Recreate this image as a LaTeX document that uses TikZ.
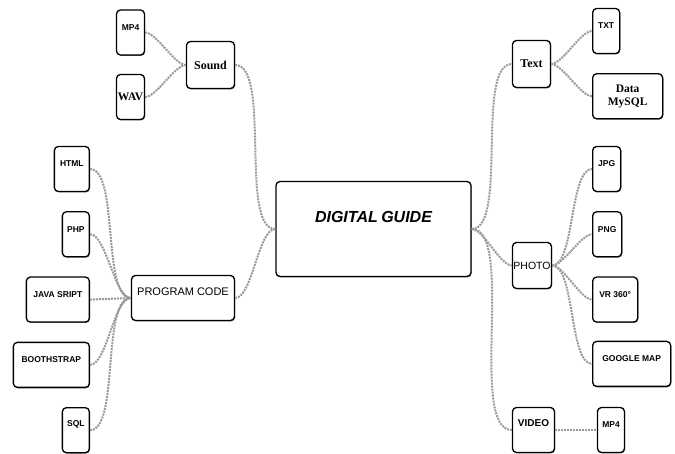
\documentclass[tikz,border=0pt]{standalone}
\usepackage{fontspec}
\setmainfont{Liberation Serif}
\setsansfont{Liberation Sans}
\usetikzlibrary{positioning,shadows}
\tikzset{box/.style ={
        rectangle,
        draw=black,
		line width=1.3pt,
        rounded corners=4pt,
        fill=white,
        inner sep=0pt,
        minimum height=45pt,
        drop shadow={shadow xshift=.6pt,shadow yshift=-.9pt,fill=black!55,opacity=1}
    },
    tag/.style ={
        box,
        font=\sffamily\bfseries\fontsize{8.5}{10}\selectfont,
        text height=6pt,
        text depth=10pt
    },
    word/.style ={
        box,
        font=\rmfamily\bfseries\fontsize{12}{14}\selectfont,
        align=center
    },
    link/.style ={
        draw=gray!80,
		line width=2pt,
        densely dotted,
        looseness=.55
    }}

\begin{document}
\begin{tikzpicture}
    [
    x=1pt,y=1pt,
    node distance=19pt and 19pt
    ]
    \useasboundingbox (0,0) rectangle (675,454);
    % centre
    \node (guide)[box,minimum width=195pt,minimum height=95pt,
        font=\sffamily\bfseries\itshape\fontsize{16}{18}\selectfont,
        text height=11.5pt,text depth=24pt] at (373.5,225) {DIGITAL\hspace{-1pt} GUIDE};

    % sound
    \node (sound)[word,minimum width=48pt,minimum height=47pt] at (210.5,389) {Sound};
    \node (mp4a)[tag,minimum width=28pt] at (130.5,421.5) {MP4};
    \node (wav)[word,minimum width=28pt,font=\rmfamily\bfseries\fontsize{11.5}{13}\selectfont] at (130.5,357) {WAV};

    % program code
    \node (code)[box,minimum width=103pt,font=\sffamily\fontsize{11}{13}\selectfont,
        text height=8pt,text depth=12pt] at (183,156) {PROGRAM CODE};
    \node (html)[tag,minimum width=35pt,anchor=east] at (90,285) {HTML};
    \node (php)[tag,minimum width=27pt,below=of html.south east,anchor=north east] {PHP};
    \node (js)[tag,minimum width=63pt,below=of php.south east,anchor=north east] {JAVA SRIPT};
    \node (boot)[tag,minimum width=76pt,below=of js.south east,anchor=north east] {BOOTHSTRAP};
    \node (sql)[tag,minimum width=27pt,text depth=14pt,below=of boot.south east,anchor=north east] {SQL};

    % text
    \node (text)[word,minimum width=38pt,minimum height=47pt] at (531.5,390) {Text};
    \node (txt)[tag,minimum width=27pt,anchor=west] at (592,423) {TXT};
    \node (data)[word,minimum width=70pt,font=\rmfamily\bfseries\fontsize{11.5}{13}\selectfont,
        below=of txt.south west,anchor=north west] {Data\\MySQL};

    % photo
    \node (photo)[box,minimum width=39pt,minimum height=46pt,font=\sffamily\fontsize{10.5}{12}\selectfont] at (532,188.5) {PHOTO};
    \node (jpg)[tag,minimum width=28pt,anchor=west] at (592,285) {JPG};
    \node (png)[tag,minimum width=29pt,below=of jpg.south west,anchor=north west] {PNG};
    \node (vr)[tag,minimum width=45pt,below=of png.south west,anchor=north west] {VR 360°};
    \node (map)[tag,minimum width=78pt,below=18pt of vr.south west,anchor=north west] {GOOGLE MAP};

    % video
    \node (video)[box,minimum width=42pt,font=\sffamily\bfseries\fontsize{10}{12}\selectfont,
        text height=7pt,text depth=14pt] at (533.5,24) {VIDEO};
    \node (mp4b)[tag,minimum width=27pt] at (611,24) {MP4};

    \draw[link] (mp4a.east) to[out=0,in=180] (sound.west);
    \draw[link] (wav.east) to[out=0,in=180] (sound.west);
    \draw[link] (sound.east) to[out=0,in=180] (guide.west);

    \draw[link] (html.east) to[out=0,in=180] (code.west);
    \draw[link] (php.east) to[out=0,in=180] (code.west);
    \draw[link] (js.east) -- (code.west);
    \draw[link] (boot.east) to[out=0,in=180] (code.west);
    \draw[link] (sql.east) to[out=0,in=180] (code.west);
    \draw[link] (code.east) to[out=0,in=180] (guide.west);

    \draw[link] (guide.east) to[out=0,in=180] (text.west);
    \draw[link] (guide.east) to[out=0,in=180] (photo.west);
    \draw[link] (guide.east) to[out=0,in=180] (video.west);

    \draw[link] (text.east) to[out=0,in=180] (txt.west);
    \draw[link] (text.east) to[out=0,in=180] (data.west);

    \draw[link] (photo.east) to[out=0,in=180] (jpg.west);
    \draw[link] (photo.east) to[out=0,in=180] (png.west);
    \draw[link] (photo.east) to[out=0,in=180] (vr.west);
    \draw[link] (photo.east) to[out=0,in=180] (map.west);

    \draw[link] (video) -- (mp4b);
\end{tikzpicture}
\end{document}
